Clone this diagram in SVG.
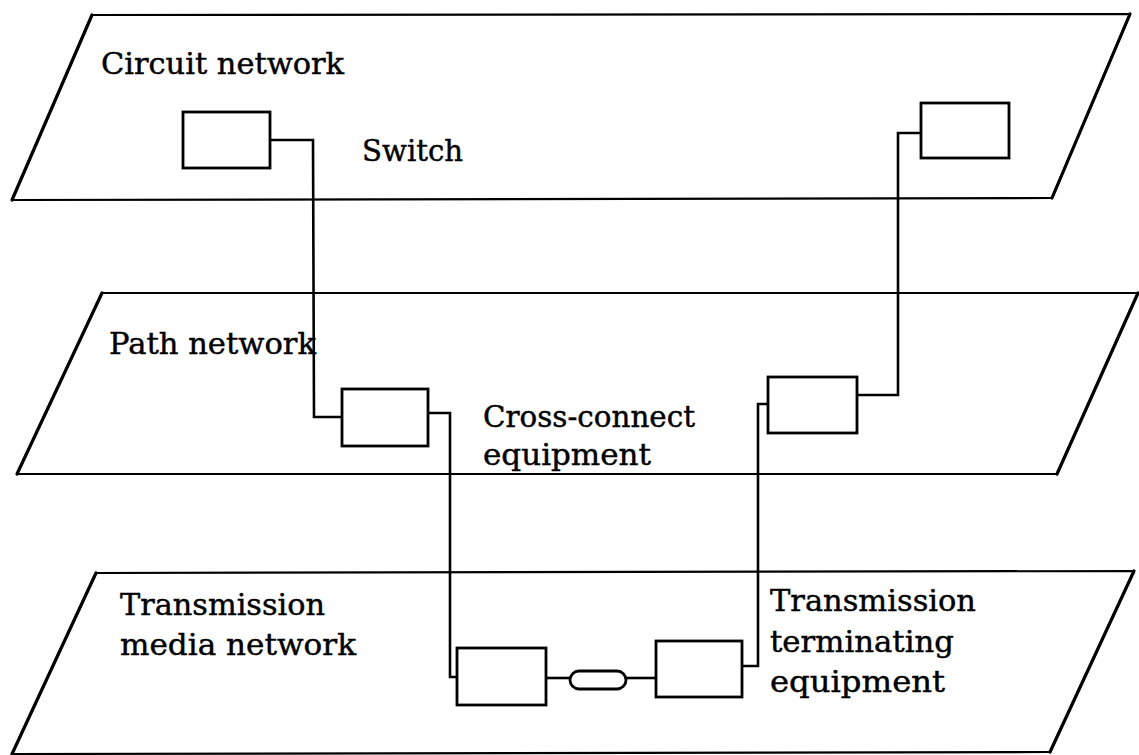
<svg xmlns="http://www.w3.org/2000/svg" width="1139" height="755" viewBox="0 0 1139 755">
<style>
.plane{fill:none;stroke:#000;stroke-width:2.2;stroke-linejoin:round}
.edge{stroke:#000;stroke-width:3.2;stroke-linecap:round}
.box{fill:#fff;stroke:#000;stroke-width:2.8}
.wire{fill:none;stroke:#000;stroke-width:2.6}
.lbl{font-family:"DejaVu Serif","Liberation Serif",serif;font-size:30px;fill:#000;stroke:#000;stroke-width:0.45}
</style>
<rect width="1139" height="755" fill="#fff"/>
<g id="planes">
<polygon id="circuit-plane" class="plane" points="92,15 1130,14 1052,198 12,200"/>
<line class="edge" x1="92" y1="15" x2="12" y2="200"/>
<line class="edge" x1="1130" y1="14" x2="1052" y2="198"/>
<polygon id="path-plane" class="plane" points="102,293 1138,293 1057,474 17,474"/>
<line class="edge" x1="102" y1="293" x2="17" y2="474"/>
<line class="edge" x1="1138" y1="293" x2="1057" y2="474"/>
<polygon id="media-plane" class="plane" points="96,573 1134,571 1050,752 12,754"/>
<line class="edge" x1="96" y1="573" x2="12" y2="754"/>
<line class="edge" x1="1134" y1="571" x2="1050" y2="752"/>
</g>
<g id="connectors">
<polyline class="wire" points="270,140 313,140 314,417 342,417"/>
<polyline class="wire" points="428,413 450,413 450,677 457,677"/>
<line class="wire" x1="546" y1="678" x2="570" y2="678"/>
<line class="wire" x1="626" y1="678" x2="656" y2="678"/>
<polyline class="wire" points="742,666 758,666 758,404 768,404"/>
<polyline class="wire" points="857,395 898,395 898,133 921,133"/>
</g>
<g id="switch-left"><rect class="box" x="183" y="112" width="87" height="56"/></g>
<g id="switch-right"><rect class="box" x="921" y="103" width="88" height="55"/></g>
<g id="xc-left"><rect class="box" x="342" y="389" width="86" height="57"/></g>
<g id="xc-right"><rect class="box" x="768" y="377" width="89" height="56"/></g>
<g id="tte-left"><rect class="box" x="457" y="648" width="89" height="57"/></g>
<g id="media"><rect class="box" x="570" y="671" width="56" height="18" rx="9" ry="9"/></g>
<g id="tte-right"><rect class="box" x="656" y="641" width="86" height="56"/></g>
<g id="labels">
<text class="lbl" x="101" y="74" textLength="243" lengthAdjust="spacingAndGlyphs">Circuit network</text>
<text class="lbl" x="362" y="161" textLength="101" lengthAdjust="spacingAndGlyphs">Switch</text>
<text class="lbl" x="109" y="354" textLength="207" lengthAdjust="spacingAndGlyphs">Path network</text>
<text class="lbl" x="483" y="427" textLength="212" lengthAdjust="spacingAndGlyphs">Cross-connect</text>
<text class="lbl" x="483" y="465" textLength="168" lengthAdjust="spacingAndGlyphs">equipment</text>
<text class="lbl" x="120" y="615" textLength="205" lengthAdjust="spacingAndGlyphs">Transmission</text>
<text class="lbl" x="120" y="655" textLength="236" lengthAdjust="spacingAndGlyphs">media network</text>
<text class="lbl" x="770" y="611" textLength="206" lengthAdjust="spacingAndGlyphs">Transmission</text>
<text class="lbl" x="770" y="652" textLength="184" lengthAdjust="spacingAndGlyphs">terminating</text>
<text class="lbl" x="770" y="692" textLength="175" lengthAdjust="spacingAndGlyphs">equipment</text>
</g>
</svg>
